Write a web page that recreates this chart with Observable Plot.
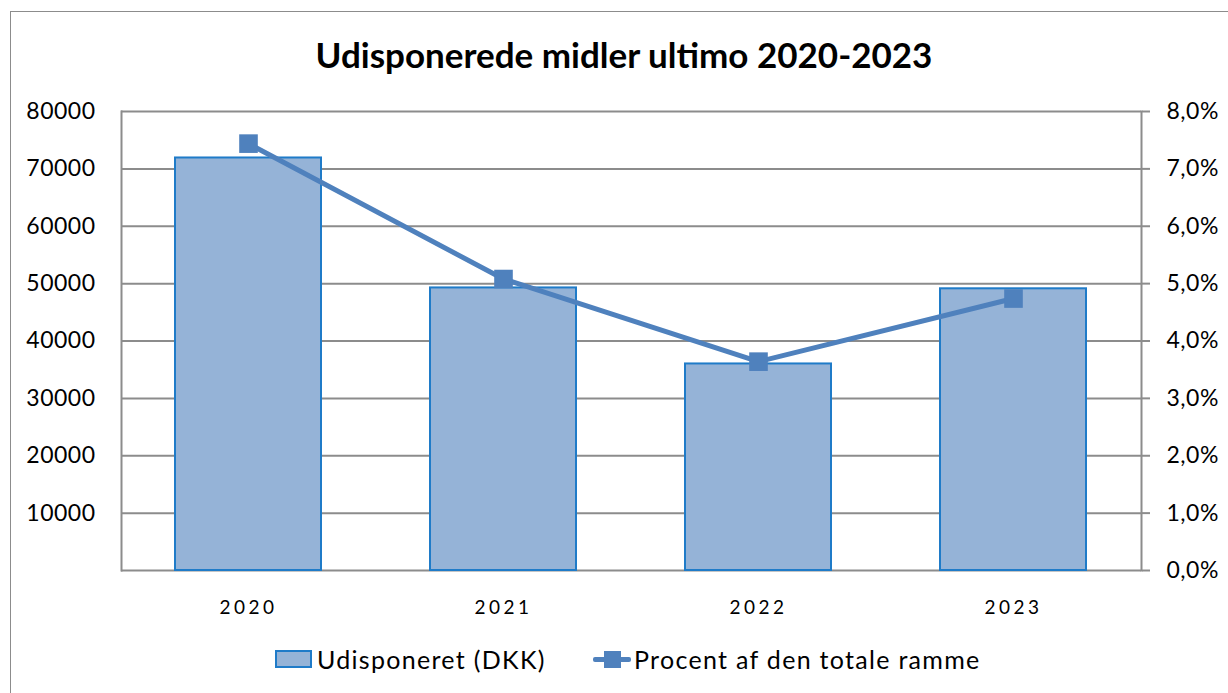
<!DOCTYPE html>
<html><head><meta charset="utf-8">
<script src="https://cdn.jsdelivr.net/npm/d3@7"></script>
<script src="https://cdn.jsdelivr.net/npm/@observablehq/plot@0.6"></script>
<style>
html,body{margin:0;padding:0;background:#fff;}
#wrap{position:relative;width:1228px;height:693px;overflow:hidden;font-family:Lato,"Open Sans",sans-serif;}
#frame{position:absolute;left:10px;top:11px;width:1240px;height:700px;border:1.5px solid #8c8c8c;box-sizing:border-box;}
#title{position:absolute;left:10px;width:1228px;top:33px;text-align:center;font-weight:bold;font-size:35px;color:#000;}
#chart{position:absolute;left:0;top:80px;}
#chart g[aria-label="x-axis tick label"] text{letter-spacing:3.5px;}
#chart g[aria-label="y-axis tick label"] text{letter-spacing:0.5px;}
#legend{position:absolute;top:644px;left:0;width:1228px;font-size:25px;letter-spacing:1.3px;color:#000;}
.lg{position:absolute;display:flex;align-items:center;}
.sw{width:33px;height:14px;background:#95B3D7;border:2px solid #1F7BC8;margin-right:5px;}
.ls{position:relative;width:38px;height:20px;margin-right:3px;}
.ls .l{position:absolute;left:0;right:0;top:8px;height:5px;background:#4F81BD;border-radius:2px;}
.ls .m{position:absolute;left:11px;top:2px;width:17px;height:17px;background:#4F81BD;}
</style></head>
<body><div id="wrap">
<div id="frame"></div>
<div id="title">Udisponerede midler ultimo 2020-2023</div>
<div id="chart"></div>
<div id="legend">
  <div class="lg" style="left:275px"><div class="sw"></div><span>Udisponeret (DKK)</span></div>
  <div class="lg" style="left:593px"><div class="ls"><div class="l"></div><div class="m"></div></div><span>Procent af den totale ramme</span></div>
</div>
</div>
<script>
const years = ["2020","2021","2022","2023"];
const amounts = [71900, 49250, 36000, 49100];
const percents = [7.44, 5.08, 3.64, 4.74];
const gridTicks = [0,10000,20000,30000,40000,50000,60000,70000,80000];
const leftTicks = [10000,20000,30000,40000,50000,60000,70000,80000];
const rightTicks = [0,1,2,3,4,5,6,7,8];

const data = years.map((y,i)=>({year:y, amount:amounts[i], pct:percents[i]}));
const pctToY = p => p*10000;

const chart = Plot.plot({
  width:1228, height:560,
  marginTop:31, marginBottom:70, marginLeft:121, marginRight:87,
  style:{fontFamily:"Lato, 'Open Sans', sans-serif", background:"transparent", overflow:"visible"},
  x:{domain:years, paddingInner:0.427, paddingOuter:0.2135, axis:null, label:null},
  y:{domain:[0,80000], axis:null, label:null},
  marks:[
    Plot.ruleY(gridTicks, {stroke:"#8c8c8c", strokeWidth:2}),
    Plot.frame({anchor:"left", stroke:"#8c8c8c", strokeWidth:2}),
    Plot.frame({anchor:"right", stroke:"#8c8c8c", strokeWidth:2}),
    Plot.axisY(leftTicks, {anchor:"left", label:null, tickSize:0, tickPadding:26, fontSize:23, tickFormat:d=>String(d), fill:"#000"}),
    Plot.axisY(rightTicks.map(pctToY), {anchor:"right", label:null, tickSize:8, tickPadding:17, stroke:"#8c8c8c", strokeWidth:2, fontSize:23, tickFormat:d=>(d/10000).toFixed(1).replace(".",",")+"%", fill:"#000"}),
    Plot.axisX(years, {anchor:"bottom", label:null, tickSize:0, tickPadding:30, fontSize:19, fill:"#000"}),
    Plot.barY(data, {x:"year", y:"amount", fill:"#95B3D7", stroke:"#1F7BC8", strokeWidth:2}),
    Plot.line(data, {x:"year", y:d=>pctToY(d.pct), stroke:"#4F81BD", strokeWidth:5}),
    Plot.dot(data, {x:"year", y:d=>pctToY(d.pct), symbol:"square", r:10.5, fill:"#4F81BD", stroke:"none"})
  ]
});
document.getElementById("chart").appendChild(chart);
</script>
</body></html>
